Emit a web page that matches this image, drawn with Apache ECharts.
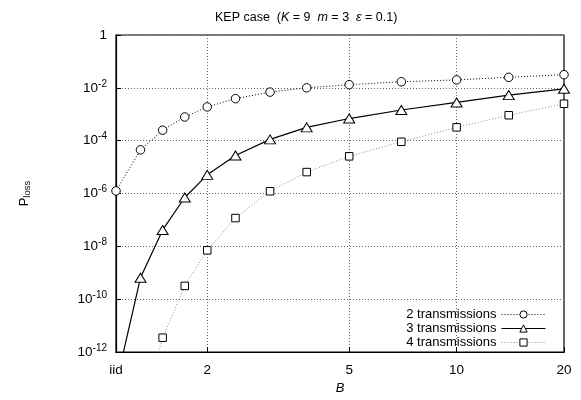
<!DOCTYPE html>
<html>
<head>
<meta charset="utf-8">
<script src="https://cdn.jsdelivr.net/npm/echarts@6/dist/echarts.min.js"></script>
<style>
    html, body { margin: 0; padding: 0; background: #fff; }
    #chart { width: 581px; height: 400px; }
</style>
</head>
<body>
<div id="chart"></div>
<script>
// B values (first one is the "iid" position)
const bValues = [1.11, 1.3, 1.5, 1.73, 2, 2.4, 3, 3.8, 5, 7, 10, 14, 20];

const loss2 = [1.26e-6, 4.5e-5, 2.5e-4, 7.9e-4, 1.9e-3, 3.9e-3, 6.9e-3, 1.0e-2, 1.32e-2, 1.7e-2, 2.0e-2, 2.5e-2, 3.16e-2];
const loss3 = [6e-14, 6.5e-10, 4.2e-8, 7.1e-7, 5.1e-6, 2.75e-5, 1.12e-4, 3.2e-4, 6.9e-4, 1.45e-3, 2.8e-3, 5.3e-3, 9.2e-3];
const loss4 = [null, 5e-15, 3.5e-12, 3.2e-10, 7.1e-9, 1.18e-7, 1.22e-6, 6.5e-6, 2.56e-5, 9.1e-5, 3.2e-4, 9.2e-4, 2.5e-3];

const xTicks = [1.11, 2, 5, 10, 20];
const yTicks = [1e-12, 1e-10, 1e-8, 1e-6, 1e-4, 1e-2, 1];

const font = "'Liberation Sans', Arial, sans-serif";

function pairs(values) {
    return bValues.map((b, i) => [b, values[i]]).filter(p => p[1] !== null);
}

const chart = echarts.init(document.getElementById("chart"));

const option = {
    animation: false,
    backgroundColor: "#fff",
    title: {
        text: "{n|KEP case  (}{i|K}{n| = 9  }{i|m}{n| = 3  }{i|ε}{n| = 0.1)}",
        left: 210,
        top: 6,
        textStyle: {
            rich: {
                n: { fontFamily: font, fontSize: 12.5, fontWeight: "normal", color: "#000" },
                i: { fontFamily: font, fontSize: 12.5, fontWeight: "normal", fontStyle: "italic", color: "#000" }
            }
        }
    },
    grid: {
        left: 116, right: 17, top: 35, bottom: 45,
        show: true, borderColor: "#000", borderWidth: 1.2
    },
    legend: {
        right: 30,
        bottom: 46,
        orient: "vertical",
        align: "right",
        itemGap: 1,
        itemWidth: 44,
        itemHeight: 9,
        itemStyle: { borderWidth: 1 },
        lineStyle: { width: 1 },
        textStyle: { fontFamily: font, fontSize: 13, color: "#000" },
        data: ["2 transmissions", "3 transmissions", "4 transmissions"]
    },
    xAxis: {
        type: "log",
        min: 1.11,
        max: 20,
        name: "B",
        nameLocation: "middle",
        nameGap: 29,
        nameTextStyle: { fontFamily: font, fontSize: 13, fontStyle: "italic", color: "#000" },
        axisLine: { show: true, lineStyle: { color: "#000", width: 1.2 } },
        axisTick: { inside: true, length: 5, customValues: xTicks, lineStyle: { color: "#000" } },
        minorTick: { show: false },
        axisLabel: {
            customValues: xTicks,
            margin: 11,
            fontFamily: font, fontSize: 13.5, color: "#000",
            formatter: v => (v < 1.5 ? "iid" : String(Math.round(v)))
        },
        splitLine: { show: true, lineStyle: { color: "#666", type: [1, 2], width: 1 } }
    },
    yAxis: {
        type: "log",
        min: 1e-12,
        max: 1,
        name: "{p|P}{s|loss}",
        nameLocation: "middle",
        nameGap: 84,
        nameRotate: 90,
        nameTextStyle: {
            rich: {
                p: { fontFamily: font, fontSize: 13, color: "#000" },
                s: { fontFamily: font, fontSize: 9.5, color: "#000", padding: [6, 0, 0, 0] }
            }
        },
        axisLine: { show: true, lineStyle: { color: "#000", width: 1.2 } },
        axisTick: { inside: true, length: 5, customValues: yTicks, lineStyle: { color: "#000" } },
        minorTick: { show: false },
        axisLabel: {
            customValues: yTicks,
            margin: 9,
            formatter: function (v) {
                const e = Math.round(Math.log10(v));
                if (e === 0) return "{b|1}";
                return "{b|10}{e|" + e + "}";
            },
            rich: {
                b: { fontFamily: font, fontSize: 13.5, color: "#000" },
                e: { fontFamily: font, fontSize: 10, color: "#000", padding: [0, 0, 8, 0] }
            }
        },
        splitLine: { show: true, lineStyle: { color: "#666", type: [1, 2], width: 1 } }
    },
    series: [
        {
            name: "2 transmissions",
            type: "line",
            data: pairs(loss2),
            symbol: "circle",
            symbolSize: 8.5,
            lineStyle: { color: "#000", width: 1, type: [1, 2] },
            itemStyle: { color: "#fff", borderColor: "#000", borderWidth: 1 },
            z: 4
        },
        {
            name: "3 transmissions",
            type: "line",
            data: pairs(loss3),
            symbol: "triangle",
            symbolSize: [11, 9],
            lineStyle: { color: "#000", width: 1.2, type: "solid" },
            itemStyle: { color: "#fff", borderColor: "#000", borderWidth: 1 },
            z: 3
        },
        {
            name: "4 transmissions",
            type: "line",
            data: pairs(loss4),
            symbol: "rect",
            symbolSize: 7.5,
            lineStyle: { color: "#888", width: 1, type: [1, 2] },
            itemStyle: { color: "#fff", borderColor: "#000", borderWidth: 1 },
            z: 2
        }
    ]
};

chart.setOption(option);
</script>
</body>
</html>
